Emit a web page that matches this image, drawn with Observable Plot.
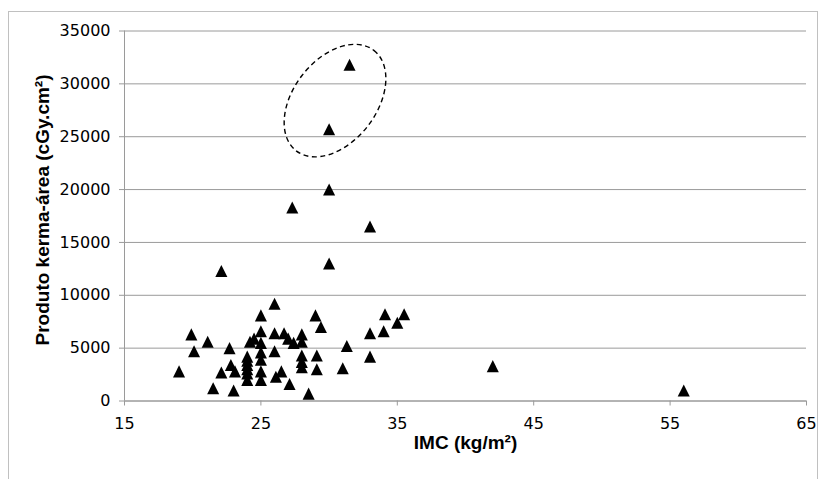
<!DOCTYPE html>
<html>
<head>
<meta charset="utf-8">
<script src="https://cdn.jsdelivr.net/npm/d3@7"></script>
<script src="https://cdn.jsdelivr.net/npm/@observablehq/plot@0.6"></script>
<style>
  html, body { margin: 0; padding: 0; background: #fff; }
  #wrap { position: relative; width: 826px; height: 479px; overflow: hidden; }
  #border { position: absolute; left: 8px; top: 11px; width: 810px; height: 500px; border: 1px solid #c0c0c0; box-sizing: border-box; pointer-events: none; }
  #chart { position: absolute; left: 0; top: 0; }
</style>
</head>
<body>
<div id="wrap"><div id="chart"></div><div id="border"></div></div>
<script>
// IMC (kg/m2) values
const imc = [
  19.0, 19.9, 20.1, 21.1, 21.5, 22.1, 22.1, 22.7, 22.8, 23.0, 23.1,
  24.0, 24.0, 24.0, 24.0, 24.0, 24.0, 24.2, 24.5,
  25.0, 25.0, 25.0, 25.0, 25.0, 25.0, 25.0,
  26.0, 26.0, 26.0, 26.1, 26.5, 26.7, 27.0, 27.1, 27.3, 27.4,
  28.0, 28.0, 28.0, 28.0, 28.0, 28.5,
  29.0, 29.1, 29.1, 29.4,
  30.0, 30.0, 30.0,
  31.0, 31.3, 31.5,
  33.0, 33.0, 33.0,
  34.0, 34.1, 35.0, 35.5,
  42.0, 56.0
];
// Produto kerma-área (cGy.cm2) values
const pka = [
  2800, 6300, 4700, 5600, 1200, 2700, 12300, 5000, 3400, 1000, 2800,
  4200, 3800, 3400, 3000, 2600, 2000, 5600, 5900,
  8100, 6600, 5500, 4600, 3900, 2800, 2000,
  9200, 6400, 4700, 2300, 2800, 6400, 5900, 1600, 18300, 5500,
  6300, 5600, 4300, 3700, 3200, 700,
  8100, 4300, 3000, 7000,
  20000, 13000, 25700,
  3100, 5200, 31800,
  16500, 6400, 4200,
  6600, 8200, 7400, 8200,
  3300, 1000
];
const xTicks = [15, 25, 35, 45, 55, 65];
const yTicks = [0, 5000, 10000, 15000, 20000, 25000, 30000, 35000];
const xTitle = "IMC (kg/m²)";
const yTitle = "Produto kerma-área (cGy.cm²)";
// highlighted region (ellipse centre, data units)
const ellipseCenter = {x: 30.47, y: 28370};

const data = imc.map((x, i) => ({x, y: pka[i]}));

// Excel-like isosceles triangle marker (width == height)
const triangle = {
  draw(ctx, size) {
    const h = Math.sqrt(size) / 2;
    ctx.moveTo(0, -h);
    ctx.lineTo(h, h);
    ctx.lineTo(-h, h);
    ctx.closePath();
  }
};

const ellipseMark = (index, scales) => {
  const g = document.createElementNS("http://www.w3.org/2000/svg", "g");
  const e = document.createElementNS("http://www.w3.org/2000/svg", "ellipse");
  const cx = scales.x(ellipseCenter.x), cy = scales.y(ellipseCenter.y);
  e.setAttribute("cx", 0);
  e.setAttribute("cy", 0);
  e.setAttribute("rx", 63.5);
  e.setAttribute("ry", 41.5);
  e.setAttribute("transform", `translate(${cx},${cy}) rotate(-52.3)`);
  e.setAttribute("fill", "none");
  e.setAttribute("stroke", "#000");
  e.setAttribute("stroke-width", 1.4);
  e.setAttribute("stroke-dasharray", "5,3.5");
  g.appendChild(e);
  return g;
};

const tickFont = "'DejaVu Sans', sans-serif";
const titleFont = "'Liberation Sans', Arial, sans-serif";

const chart = Plot.plot({
  width: 826,
  height: 479,
  marginLeft: 124,
  marginRight: 20,
  marginTop: 30.5,
  marginBottom: 78.5,
  style: {fontFamily: tickFont, fontSize: "16px", color: "#000", background: "#fff"},
  x: {domain: [15, 65], ticks: xTicks},
  y: {domain: [0, 35000], ticks: yTicks},
  marks: [
    Plot.gridY(yTicks, {stroke: "#9a9a9a", strokeOpacity: 1, strokeWidth: 1}),
    Plot.ruleX([15], {stroke: "#9a9a9a"}),
    Plot.ruleY([0], {stroke: "#9a9a9a"}),
    Plot.axisX(xTicks, {tickSize: 5, tickPadding: 12, stroke: "#9a9a9a", fill: "#000", fontSize: 16, fontFamily: tickFont, label: null, tickFormat: d => String(d)}),
    Plot.axisY(yTicks, {tickSize: 5, tickPadding: 9, stroke: "#9a9a9a", fill: "#000", fontSize: 16, fontFamily: tickFont, label: null, tickFormat: d => String(d)}),
    Plot.dot(data, {x: "x", y: "y", symbol: triangle, r: 6.8, fill: "#000", stroke: "none"}),
    ellipseMark,
    Plot.text([xTitle], {frameAnchor: "bottom", dy: 42, textAnchor: "middle", lineAnchor: "middle", fontFamily: titleFont, fontWeight: "bold", fontSize: 19, fill: "#000"}),
    Plot.text([yTitle], {frameAnchor: "left", dx: -82, dy: -6, rotate: -90, textAnchor: "middle", lineAnchor: "middle", fontFamily: titleFont, fontWeight: "bold", fontSize: 19, fill: "#000"})
  ]
});
document.getElementById("chart").appendChild(chart);
</script>
</body>
</html>
